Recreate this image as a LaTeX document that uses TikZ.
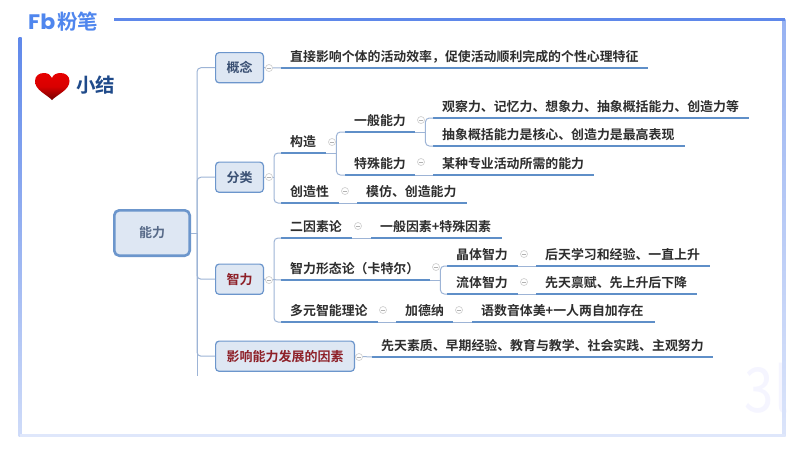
\documentclass[tikz,border=0pt]{standalone}
\usepackage{fontspec}
\setmainfont{Noto Sans CJK SC Bold}
\newfontfamily\plainfont{Noto Sans CJK SC}
\newfontfamily\heavyfont{Noto Sans CJK SC Bold}
\newfontfamily\logofont{Poppins Bold}
\definecolor{ulblue}{HTML}{5F8FC8}
\definecolor{connblue}{HTML}{9DB4D6}
\definecolor{boxfill}{HTML}{DEE7F3}
\definecolor{boxline}{HTML}{6C96CC}
\definecolor{boxtext}{HTML}{3A5073}
\definecolor{redtext}{HTML}{8E2028}
\definecolor{txt}{HTML}{2E2E2E}
\definecolor{frame}{HTML}{5F88EA}
\definecolor{logo}{HTML}{4F86EE}
\definecolor{xjblue}{HTML}{1F4A8A}
\tikzset{
  x=1pt,y=-1pt,
  leaf/.style={anchor=south west,inner sep=0pt,text height=15pt,text depth=6pt,font=\fontsize{12.9pt}{14pt}\selectfont,text=txt},
  ul/.style={draw=ulblue,line width=1.6pt},
  conn/.style={draw=connblue,line width=1pt,rounded corners=4pt},
  branch/.style={draw=boxline,fill=boxfill,line width=1.2pt,rounded corners=3.5pt,anchor=north west,inner sep=0pt,text=boxtext,font=\fontsize{13pt}{14pt}\selectfont},
  mn/.style={circle,draw=black!18,fill=white,line width=.7pt,minimum size=7pt,inner sep=0pt,
    path picture={\draw[black!30,line width=.7pt] (path picture bounding box.west) ++(1.5,0) -- ++(4,0);}},
}
\newcommand{\leafnode}[5]{\node[leaf] (#1) at (#2,#4) {\makebox[#3pt][l]{\hspace{9pt}#5}};\draw[ul] (#1.south west) -- (#1.south east);}
% stub from #1 to a spine #2 pt further right, with rounded arms to the nodes in #3
\newcommand{\forkto}[3]{\draw[conn] (#1) -- ++(#2,0) coordinate (sp);\foreach \t in {#3}{\draw[conn] (sp) |- (\t.south west);}}
\begin{document}
\begin{tikzpicture}
\useasboundingbox (0,0) rectangle (800,450);
\fill[white] (0,0) rectangle (800,450);
% watermark
\node[text=blue!4,font=\plainfont\fontsize{62pt}{62pt}\selectfont,anchor=center,xscale=.85] (wm) at (767,388) {3l};
% frame
\shade[top color=frame,bottom color=frame!30] (18.5,37) rectangle (21.5,436);
\shade[top color=frame!65,bottom color=frame!22] (782.5,19) rectangle (785.5,436);
\fill[frame!20] (20,433.5) rectangle (785,437);
\fill[frame] (114,17.5) rectangle (785,20.5);
% logo
\node[anchor=west,inner sep=0pt,text=logo,font=\logofont\fontsize{21pt}{21pt}\selectfont,xscale=1.05] (fb) at (28,21.5) {Fb};
\node[anchor=west,inner sep=0pt,text=logo,font=\heavyfont\fontsize{20.5pt}{20pt}\selectfont] (fen) at (57,22) {粉笔};
% heart
\shade[top color=red!90!black,bottom color=red!45!black,middle color=red!85!black]
  (52,100) .. controls (46,94) and (35,90) .. (35,81) .. controls (35,75.5) and (39.5,73) .. (44,73)
  .. controls (48,73) and (51,75) .. (52,78) .. controls (53,75) and (56,73) .. (60.5,73)
  .. controls (65,73) and (69.5,75.5) .. (69.5,81) .. controls (69.5,90) and (58,94) .. (52,100) -- cycle;
\node[anchor=west,inner sep=0pt,text=xjblue,font=\heavyfont\fontsize{19.5pt}{20pt}\selectfont] (xj) at (76,85) {小结};
% root and branches
\node[branch,line width=2.6pt,minimum width=75.4pt,minimum height=45.4pt,rounded corners=5pt,font=\fontsize{13pt}{14pt}\selectfont,text=boxtext!85] (root) at (113,209) {能力};
\node[branch,minimum width=47.8pt,minimum height=30.2pt] (b1) at (215,52) {概念};
\node[branch,minimum width=47.8pt,minimum height=30.2pt] (b2) at (215,161.5) {分类};
\node[branch,minimum width=47.8pt,minimum height=30.2pt,text=redtext] (b3) at (215,263.5) {智力};
\node[branch,minimum width=138.8pt,minimum height=30.2pt,text=redtext] (b4) at (215,340.5) {影响能力发展的因素};
\coordinate (tkend) at (197,376);
\coordinate (tk) at (197,233);
% leaves
\leafnode{gn}{281}{367}{68}{直接影响个体的活动效率，促使活动顺利完成的个性心理特征}
\leafnode{gz}{281}{45}{153}{构造}
\leafnode{cz}{281}{58}{203}{创造性}
\leafnode{mf}{357}{110}{203}{模仿、创造能力}
\leafnode{yb}{345}{70}{132}{一般能力}
\leafnode{ts}{345}{70}{175}{特殊能力}
\leafnode{mz}{433}{161}{175}{某种专业活动所需的能力}
\leafnode{gc}{433}{316}{118}{观察力、记忆力、想象力、抽象概括能力、创造力等}
\leafnode{cx}{433}{252}{146}{抽象概括能力是核心、创造力是最高表现}
\leafnode{ey}{281}{71}{238}{二因素论}
\leafnode{ybys}{371}{131}{238}{一般因素+特殊因素}
\leafnode{xt}{281}{149}{280}{智力形态论（卡特尔）}
\leafnode{jt}{447}{71}{266}{晶体智力}
\leafnode{ht}{536}{174}{266}{后天学习和经验、一直上升}
\leafnode{lt}{447}{71}{294}{流体智力}
\leafnode{xtb}{536}{161}{294}{先天禀赋、先上升后下降}
\leafnode{dy}{281}{97}{322}{多元智能理论}
\leafnode{jd}{396}{57}{322}{加德纳}
\leafnode{ys}{472}{183}{322}{语数音体美+一人两自加存在}
\leafnode{xs}{372}{341}{357}{先天素质、早期经验、教育与教学、社会实践、主观努力}
% trunk
\draw[conn] (root.east) -- (tk);
\draw[conn] (tk) |- (b1.west);
\draw[conn] (tk) |- (b2.west);
\draw[conn] (tk) |- (b3.west);
\draw[conn] (tk) |- (b4.west);
\draw[conn] (tk) -- (tkend);
% connectors
\draw[conn] (b1.east) -- (gn.south west);
\forkto{b2.east}{10}{gz,cz}
\draw[conn] (cz.south east) -- (mf.south west);
\forkto{gz.south east}{10}{yb,ts}
\draw[conn] (ts.south east) -- (mz.south west);
\forkto{yb.south east}{10}{gc,cx}
\forkto{b3.east}{10}{ey,dy}
\draw[conn] (b3.east) -- (xt.south west);
\draw[conn] (ey.south east) -- (ybys.south west);
\forkto{xt.south east}{10}{jt,lt}
\draw[conn] (jt.south east) -- (ht.south west);
\draw[conn] (lt.south east) -- (xtb.south west);
\draw[conn] (dy.south east) -- (jd.south west);
\draw[conn] (jd.south east) -- (ys.south west);
\draw[conn] (b4.east) -- (xs.south west);
% collapse marks
\foreach \i/\px/\py in {a/269/68,b/269/177,c/269/280,d/359/357,e/332/142,f/345/191,g/421/120,h/421/162,i/358/226,j/436/267,k/383/310,l/459/310,m/524/254,n/524/282}
  \node[mn] (mk\i) at (\px,\py) {};
\end{tikzpicture}
\end{document}
